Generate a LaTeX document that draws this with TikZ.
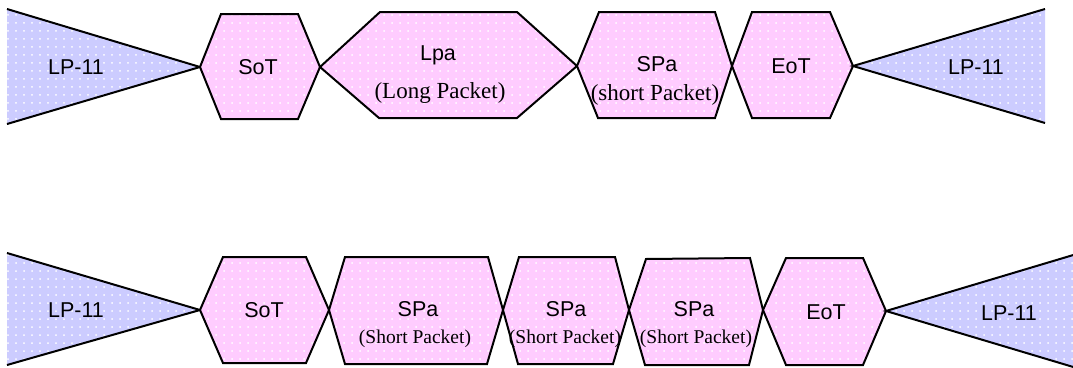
\documentclass[tikz,border=0pt]{standalone}
\usepackage{fontspec}
\setmainfont{Liberation Serif}
\setsansfont{Liberation Sans}
\usetikzlibrary{patterns.meta}
\definecolor{pinkfill}{HTML}{FFCCFF}
\definecolor{bluefill}{HTML}{CCCCFF}
\tikzset{
  hexa/.style={draw=black, line width=2pt, line join=miter,
    preaction={fill=pinkfill},
    pattern={Dots[distance=8pt, radius=1pt]}, pattern color=white},
  trifill/.style={preaction={fill=bluefill},
    pattern={Dots[distance=8pt, radius=1pt]}, pattern color=white},
  triedge/.style={draw=black, line width=2pt, line join=miter},
  sanslab/.style={anchor=base, inner sep=0pt, font=\sffamily\fontsize{21.5}{25}\selectfont},
  serlab/.style={anchor=base, inner sep=0pt, font=\rmfamily\fontsize{23}{27}\selectfont},
  serlabs/.style={anchor=base, inner sep=0pt, font=\rmfamily\fontsize{19.5}{23}\selectfont},
}
\begin{document}
\begin{tikzpicture}[x=1pt, y=-1pt]
\useasboundingbox (0,0) rectangle (1073,367);
\clip (0,0) rectangle (1073,367);
% ---------- top row ----------
\fill[trifill] (7,9) -- (200,67) -- (7,124) -- cycle;
\draw[triedge] (7,9) -- (200,67) -- (7,124);
\draw[hexa] (200,67) -- (221,14) -- (298,14) -- (320,67) -- (298,119) -- (221,119) -- cycle;
\draw[hexa] (320,67) -- (380,12) -- (517,12) -- (577,66) -- (517,118) -- (379,118) -- cycle;
\draw[hexa] (577,66) -- (599,12) -- (715,12) -- (732,66) -- (715,118) -- (598,118) -- cycle;
\draw[hexa] (732,66) -- (752,12) -- (830,12) -- (853,66) -- (830,118) -- (752,118) -- cycle;
\fill[trifill] (1045,9) -- (853,66) -- (1045,123) -- cycle;
\draw[triedge] (1045,9) -- (853,66) -- (1045,123);

\node[sanslab] (t1) at (76,74) {LP-11};
\node[sanslab] (t2) at (258,74) {SoT};
\node[sanslab] (t3) at (438,60) {Lpa};
\node[serlab] (t3b) at (440,98) {(Long Packet)};
\node[sanslab] (t4) at (657,71) {SPa};
\node[serlab] (t4b) at (655,100) {(short Packet)};
\node[sanslab] (t5) at (791,73) {EoT};
\node[sanslab] (t6) at (976,74) {LP-11};

% ---------- bottom row ----------
\fill[trifill] (7,253) -- (200,310) -- (7,365) -- cycle;
\draw[triedge] (7,253) -- (200,310) -- (7,365);
\draw[hexa] (200,310) -- (223,257) -- (306,257) -- (329,310) -- (306,363) -- (223,363) -- cycle;
\draw[hexa] (329,310) -- (345,257) -- (488,257) -- (503,310) -- (487,364) -- (345,364) -- cycle;
\draw[hexa] (503,310) -- (519,257) -- (615,257) -- (629,310) -- (613,364) -- (518,364) -- cycle;
\draw[hexa] (629,310) -- (646,259) -- (750,258) -- (763,310) -- (749,365) -- (645,365) -- cycle;
\draw[hexa] (763,310) -- (786,258) -- (863,258) -- (886,311) -- (863,365) -- (786,365) -- cycle;
\fill[trifill] (1090,250) -- (886,311) -- (1090,372) -- cycle;
\draw[triedge] (1090,250) -- (886,311) -- (1090,372);

\node[sanslab] (b1) at (76,317) {LP-11};
\node[sanslab] (b2) at (264,317) {SoT};
\node[sanslab] (b3) at (418,316) {SPa};
\node[serlabs] (b3b) at (415,343) {(Short Packet)};
\node[sanslab] (b4) at (566,316) {SPa};
\node[serlabs] (b4b) at (565,343) {(Short Packet)};
\node[sanslab] (b5) at (694,316) {SPa};
\node[serlabs] (b5b) at (696,343) {(Short Packet)};
\node[sanslab] (b6) at (826,319) {EoT};
\node[sanslab] (b7) at (1009,320) {LP-11};
\end{tikzpicture}
\end{document}
